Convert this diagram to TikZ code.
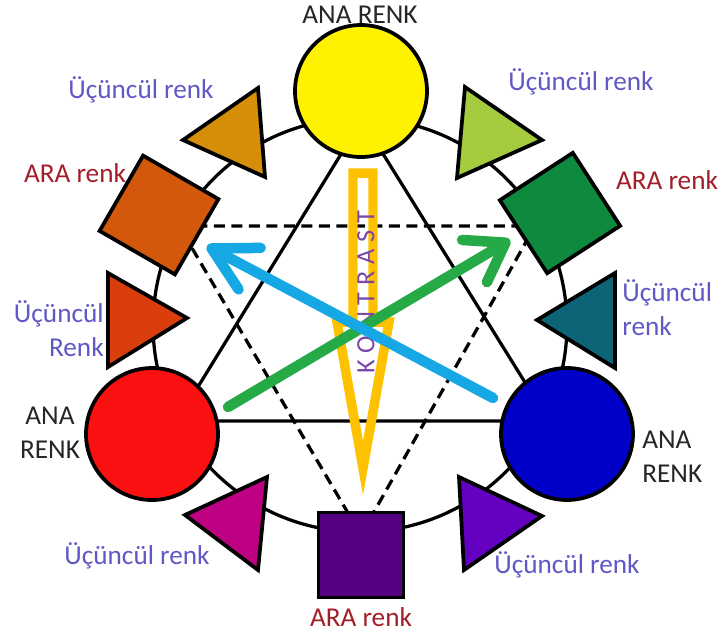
\documentclass[tikz,border=0pt]{standalone}
\usepackage{fontspec}
\setmainfont{Carlito}
\usetikzlibrary{arrows.meta}
\definecolor{renkYellow}{RGB}{255,242,0}
\definecolor{renkRed}{RGB}{250,16,16}
\definecolor{renkBlue}{RGB}{0,0,200}
\definecolor{renkOrange}{RGB}{212,88,12}
\definecolor{renkGreen}{RGB}{14,138,62}
\definecolor{renkPurple}{RGB}{84,0,128}
\definecolor{renkGold}{RGB}{214,142,10}
\definecolor{renkLime}{RGB}{164,204,62}
\definecolor{renkTeal}{RGB}{12,100,118}
\definecolor{renkVermilion}{RGB}{218,62,12}
\definecolor{renkMagenta}{RGB}{190,0,130}
\definecolor{renkViolet}{RGB}{100,0,192}
\definecolor{labelViolet}{RGB}{96,88,196}
\definecolor{labelRed}{RGB}{162,30,40}
\definecolor{labelDark}{RGB}{38,38,38}
\definecolor{kontrastYellow}{RGB}{255,194,0}
\definecolor{kontrastText}{RGB}{122,70,170}
\definecolor{arrowBlue}{RGB}{22,168,228}
\definecolor{arrowGreen}{RGB}{38,170,72}

\begin{document}
\begin{tikzpicture}[
  x=0.02cm,y=-0.02cm,
  ring/.style={line width=0.065cm},
  dashline/.style={line width=0.065cm,dash pattern=on 0.22cm off 0.13cm},
  ana/.style={circle,draw,line width=0.075cm,minimum size=2.64cm,inner sep=0pt},
  ara/.style={rectangle,draw,line width=0.075cm,minimum size=1.74cm,inner sep=0pt},
  tri/.style={draw,line width=0.075cm,line join=miter},
  lbl/.style={font=\fontsize{15.5}{19.5}\selectfont,inner sep=0pt},
  ucuncu/.style={lbl,labelViolet},
  arabox/.style={lbl,labelRed},
  anabox/.style={lbl,labelDark},
  bigarrow/.style={line width=0.21cm,line cap=round}
]
  \useasboundingbox (0,0) rectangle (725,637);

  \draw[ring] (360,325) circle (4.14cm);
  \draw[ring] (362,120) -- (177,421) -- (549,421) -- cycle;
  \draw[dashline] (179,226) -- (535,226) -- (361,535) -- cycle;

  \draw[kontrastYellow,line width=0.19cm,line join=miter]
    (353,173) -- (373,173) -- (373,322) -- (389,322) -- (363,468)
    -- (337,322) -- (353,322) -- cycle;
  \node[rotate=90,kontrastText,font=\fontsize{15}{18}\selectfont,inner sep=0pt]
    (kontrast) at (366,292)
    {K\hspace{0.26em}O\hspace{0.26em}N\hspace{0.26em}T\hspace{0.26em}R\hspace{0.26em}A\hspace{0.26em}S\hspace{0.26em}T};

  \node[ana,fill=renkYellow] (anaTop) at (361,91) {};
  \node[ana,fill=renkRed] (anaLeft) at (152,434) {};
  \node[ana,fill=renkBlue] (anaRight) at (567,434) {};

  \node[ara,fill=renkOrange,rotate=-30] (araLeft) at (159,215) {};
  \node[ara,fill=renkGreen,rotate=33] (araRight) at (560,213) {};
  \node[ara,fill=renkPurple,minimum size=1.7cm] (araBottom) at (361,555) {};

  \draw[tri,fill=renkGold] (183,140) -- (258,88) -- (265,177) -- cycle;
  \draw[tri,fill=renkLime] (465,87) -- (542,140) -- (457,178) -- cycle;
  \draw[tri,fill=renkVermilion] (108,273) -- (187,318) -- (108,367) -- cycle;
  \draw[tri,fill=renkTeal] (615,273) -- (537,320) -- (615,368) -- cycle;
  \draw[tri,fill=renkMagenta] (267,477) -- (185,515) -- (258,570) -- cycle;
  \draw[tri,fill=renkViolet] (459,477) -- (542,516) -- (464,570) -- cycle;

  \node[anabox] (lblTop) at (360,15) {ANA RENK};
  \node[anabox,align=center] (lblLeft) at (50,433) {ANA\\RENK};
  \node[anabox,align=left,anchor=west] (lblRight) at (642,457) {ANA\\RENK};

  \node[arabox] (lblAraLeft) at (75,173) {ARA renk};
  \node[arabox] (lblAraRight) at (667,180) {ARA renk};
  \node[arabox] (lblAraBottom) at (361,617) {ARA renk};

  \node[ucuncu] (lblGold) at (141,90) {Üçüncül renk};
  \node[ucuncu] (lblLime) at (581,82) {Üçüncül renk};
  \node[ucuncu,align=right,anchor=east] (lblVermilion) at (104,329) {Üçüncül\\Renk};
  \node[ucuncu,align=left,anchor=west] (lblTeal) at (622,308) {Üçüncül\\renk};
  \node[ucuncu] (lblMagenta) at (137,556) {Üçüncül renk};
  \node[ucuncu] (lblViolet) at (567,565) {Üçüncül renk};

  \draw[bigarrow,arrowGreen,-{Straight Barb[round,length=0.72cm,width=0.98cm]}]
    (228,407) -- (510,240);
  \draw[bigarrow,arrowBlue,-{Straight Barb[round,length=0.86cm,width=0.94cm]}]
    (493,398) -- (207,246);
\end{tikzpicture}
\end{document}
